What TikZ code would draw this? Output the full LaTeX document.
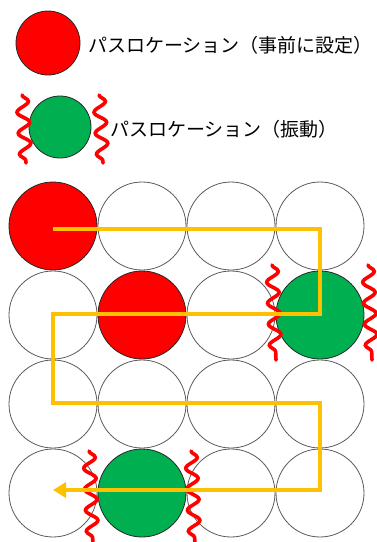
\documentclass[tikz,border=0pt]{standalone}
\usepackage{fontspec}
\newfontfamily\jpfont{Noto Sans CJK JP}
\usepackage{tikz}
\usetikzlibrary{calc,arrows.meta,positioning,decorations.pathmorphing}

\definecolor{passred}{RGB}{255,0,0}
\definecolor{passgreen}{RGB}{0,176,80}
\definecolor{routeorange}{RGB}{255,192,0}

\begin{document}
\begin{tikzpicture}[x=1pt,y=-1pt,
    cell/.style={circle,draw=black!65,line width=0.8pt,fill=white,
                 minimum size=88pt,inner sep=0pt},
    preset/.style={cell,draw=black!85,fill=passred},
    shake/.style={cell,draw=black!85,fill=passgreen},
    wave/.style={draw=passred,line width=3.6pt,line cap=round,
                 decorate,decoration={snake,segment length=21pt,amplitude=6pt}},
    route/.style={draw=routeorange,line width=3.8pt,
                  -{Triangle[length=13pt,width=15pt]}},
    lbl/.style={font=\jpfont\fontsize{19}{23}\selectfont,anchor=west,inner sep=0pt},
]
\useasboundingbox (0,0) rectangle (376,542);

% Legend
\node[preset,minimum size=64pt] (keyred) at (48,43) {};
\node[lbl] (txtred) at (88,45) {パスロケーション（事前に設定）};

\node[shake,minimum size=62pt] (keygreen) at (60,127) {};
\node[lbl] (txtgreen) at (110,129) {パスロケーション（振動）};

\coordinate (k1a) at (22,95);  \coordinate (k1b) at (26,163);
\coordinate (k2a) at (99,95);  \coordinate (k2b) at (103,163);
\draw[wave] (k1a) -- (k1b);
\draw[wave] (k2a) -- (k2b);

% Grid of cells
\foreach \r/\c/\s in {1/1/preset,1/2/cell,1/3/cell,1/4/cell,
                      2/1/cell,2/2/preset,2/3/cell,2/4/shake,
                      3/1/cell,3/2/cell,3/3/cell,3/4/cell,
                      4/1/cell,4/2/shake,4/3/cell,4/4/cell}
  \node[\s] (c\r\c) at ({53+89*(\c-1)},{226+89*(\r-1)}) {};

% Vibrating locations
\coordinate (v1a) at (272,265); \coordinate (v1b) at (276,360);
\coordinate (v2a) at (368,265); \coordinate (v2b) at (372,360);
\coordinate (v3a) at (89,451);  \coordinate (v3b) at (93,546);
\coordinate (v4a) at (191,451); \coordinate (v4b) at (195,546);
\draw[wave] (v1a) -- (v1b);
\draw[wave] (v2a) -- (v2b);
\draw[wave] (v3a) -- (v3b);
\draw[wave] (v4a) -- (v4b);

% Route
\draw[route] ($(c11.center)+(0,3)$) -- ($(c14.center)+(0,3)$)
   -- ($(c24.center)+(0,-1)$) -- ($(c21.center)+(0,-1)$)
   -- ($(c31.center)+(0,-1)$) -- ($(c34.center)+(0,-1)$)
   -- ($(c44.center)+(0,-3)$) -- ($(c41.center)+(0,-3)$);

\end{tikzpicture}
\end{document}
